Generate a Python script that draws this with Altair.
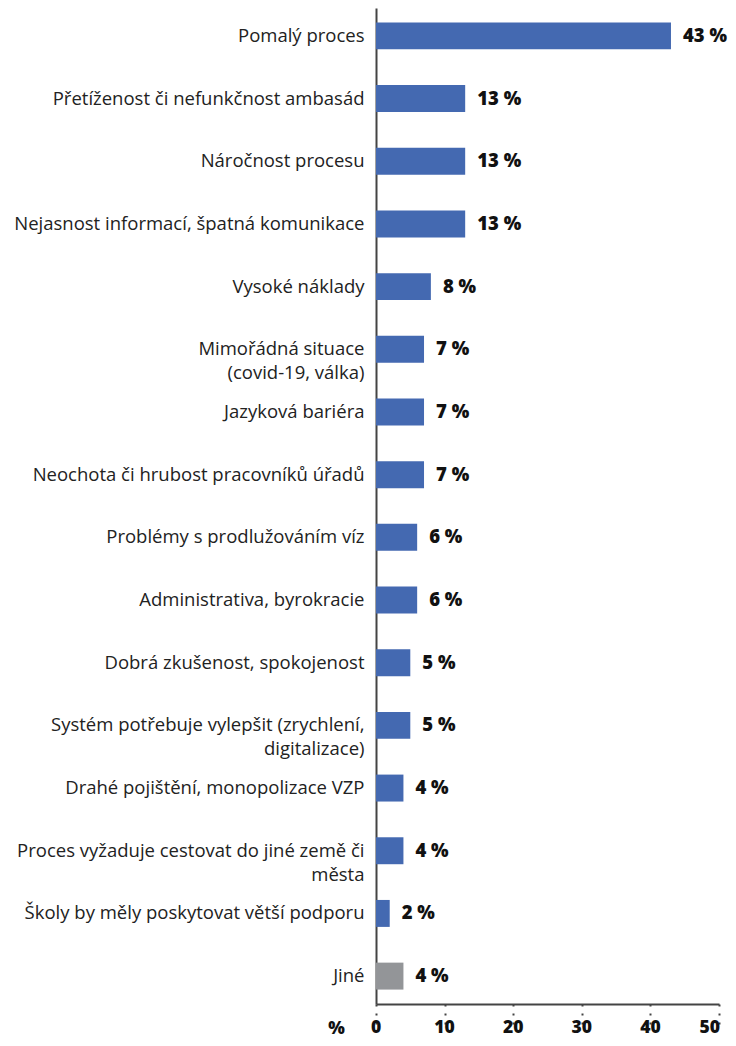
import altair as alt
import pandas as pd

categories = [
    "Pomalý proces",
    "Přetíženost či nefunkčnost ambasád",
    "Náročnost procesu",
    "Nejasnost informací, špatná komunikace",
    "Vysoké náklady",
    "Mimořádná situace|(covid-19, válka)",
    "Jazyková bariéra",
    "Neochota či hrubost pracovníků úřadů",
    "Problémy s prodlužováním víz",
    "Administrativa, byrokracie",
    "Dobrá zkušenost, spokojenost",
    "Systém potřebuje vylepšit (zrychlení,|digitalizace)",
    "Drahé pojištění, monopolizace VZP",
    "Proces vyžaduje cestovat do jiné země či|města",
    "Školy by měly poskytovat větší podporu",
    "Jiné",
]
values = [43, 13, 13, 13, 8, 7, 7, 7, 6, 6, 5, 5, 4, 4, 2, 4]
groups = ["main"] * 15 + ["other"]
tick_values = [0, 10, 20, 30, 40, 50]

df = pd.DataFrame({"cat": categories, "val": values, "grp": groups})
df["lbl"] = df["val"].astype(str) + " %"
ticks_df = pd.DataFrame({"t": tick_values})
ticks_df["txt"] = ticks_df["t"].astype(str)
ticks_df["last"] = ticks_df["t"] == max(tick_values)

FONT = "Open Sans"
BOLD = "Noto Sans"
PLOT_H = 996

y = alt.Y(
    "cat:N",
    sort=None,
    title=None,
    scale=alt.Scale(paddingInner=0.57, paddingOuter=0.23),
    axis=alt.Axis(
        labelExpr="split(datum.label, '|')",
        labelFont=FONT,
        labelFontSize=18.5,
        labelColor="#222222",
        labelPadding=12,
        labelLineHeight=24,
        ticks=False,
        domainColor="#444444",
        domainWidth=2,
        labelLimit=400,
    ),
)

x_scale = alt.Scale(domain=[0, 50])

x = alt.X(
    "val:Q",
    scale=x_scale,
    axis=alt.Axis(
        values=tick_values,
        grid=False,
        domainColor="#444444",
        domainWidth=2,
        tickColor="#444444",
        tickWidth=2,
        tickSize=20,
        tickDash=[2, 7],
        labels=False,
        title="%",
        titleFont=BOLD,
        titleFontWeight=900,
        titleFontSize=17.5,
        titleColor="#111111",
        titleAngle=0,
        titleX=-40,
        titleY=29,
        titleAlign="center",
        titleBaseline="alphabetic",
    ),
)

bars = alt.Chart(df).mark_bar().encode(
    y=y,
    x=x,
    color=alt.Color(
        "grp:N",
        scale=alt.Scale(domain=["main", "other"], range=["#4469B1", "#939598"]),
        legend=None,
    ),
)

text = alt.Chart(df).mark_text(
    align="left", baseline="middle", dx=12, font=BOLD, fontSize=18.5, fontWeight=900, color="#111111"
).encode(y=alt.Y("cat:N", sort=None), x="val:Q", text="lbl:N")

tick_style = dict(baseline="alphabetic", font=BOLD, fontSize=17.5, fontWeight=900, color="#111111")

tick_mid = alt.Chart(ticks_df).transform_filter("!datum.last").mark_text(
    align="center", **tick_style
).encode(x=alt.X("t:Q"), y=alt.value(PLOT_H + 29), text="txt:N")

tick_end = alt.Chart(ticks_df).transform_filter("datum.last").mark_text(
    align="right", dx=1, **tick_style
).encode(x=alt.X("t:Q"), y=alt.value(PLOT_H + 29), text="txt:N")

chart = (
    alt.layer(bars, text, tick_mid, tick_end)
    .properties(
        width=343,
        height=PLOT_H,
        autosize=alt.AutoSizeParams(type="none"),
        padding={"left": 368, "top": 0, "right": 9, "bottom": 34},
    )
    .configure_view(stroke=None)
)

chart.save("out.html", embed_options={"renderer": "svg", "actions": False})
